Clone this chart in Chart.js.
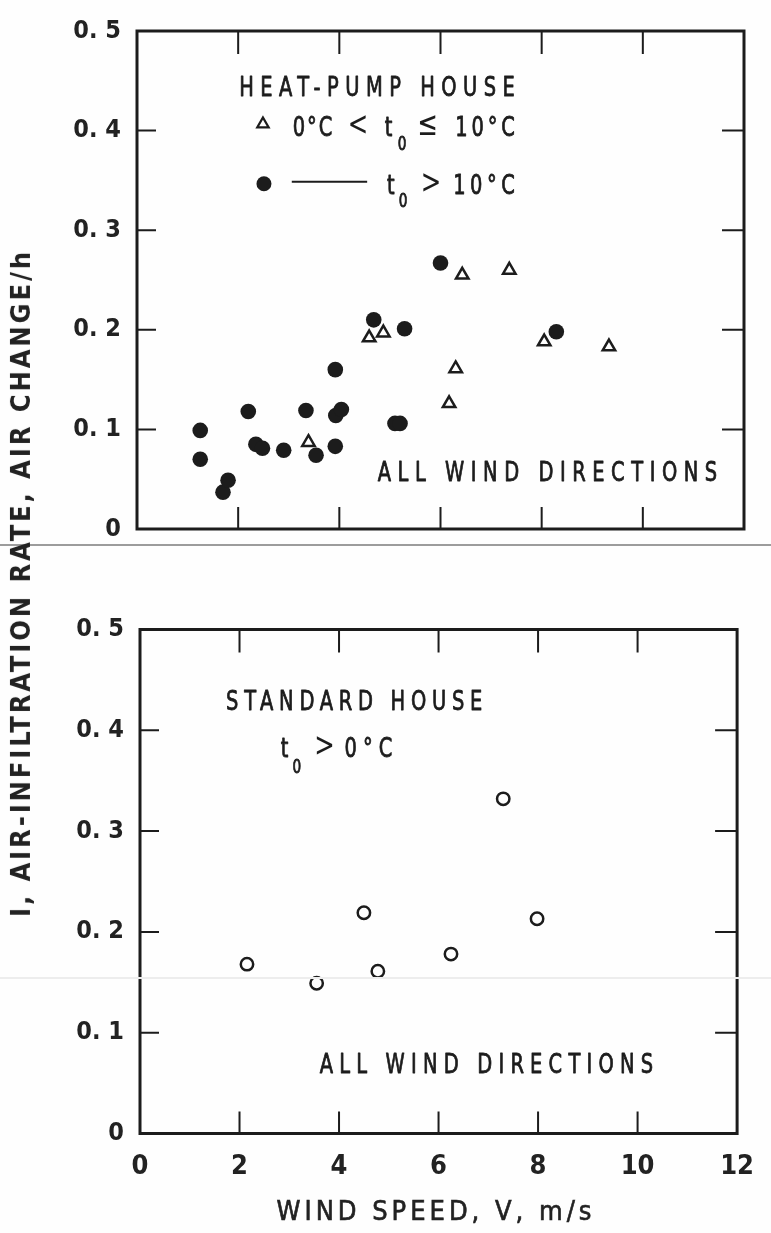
<!DOCTYPE html>
<html>
<head>
<meta charset="utf-8">
<script src="https://cdn.jsdelivr.net/npm/chart.js@4.4.1/dist/chart.umd.min.js"></script>
<style>
  html, body { margin: 0; padding: 0; background: #fff; }
  #page { position: relative; width: 771px; height: 1233px; overflow: hidden; background: #fefefe; }
  canvas { position: absolute; left: 0; }
  #top { top: 0; }
  #bottom { top: 580px; }
  .label { position: absolute; white-space: nowrap; color: #222; }
  #xtitle { -webkit-text-stroke: 0.6px #222; }
  .scan { position: absolute; left: 0; width: 771px; }
</style>
</head>
<body>
<div id="page">
  <canvas id="top" width="771" height="560"></canvas>
  <canvas id="bottom" width="771" height="653"></canvas>
  <div class="scan" style="top:544px;height:2px;background:#9c9c9c"></div>
  <div class="scan" style="top:977px;height:2px;background:#ededed"></div>
  <div id="ytitle" class="label">I, AIR-INFILTRATION RATE, AIR CHANGE/h</div>
  <div id="xtitle" class="label">WIND SPEED, V, m/s</div>
</div>
<script>
// axes
const speedTicks = [0, 2, 4, 6, 8, 10, 12];
const rateTicks = [0, 0.1, 0.2, 0.3, 0.4, 0.5];

// heat-pump house, t0 > 10 °C (filled dots)
const hpWarmV = [1.25, 1.25, 1.70, 1.80, 2.20, 2.35, 2.48, 2.90, 3.34, 3.54,
  3.92, 3.92, 3.93, 4.04, 4.68, 5.29, 5.10, 5.20, 6.00, 8.29];
const hpWarmI = [0.099, 0.070, 0.037, 0.049, 0.118, 0.085, 0.081, 0.079, 0.119, 0.074,
  0.160, 0.083, 0.114, 0.120, 0.210, 0.201, 0.106, 0.106, 0.267, 0.198];

// heat-pump house, 0 °C < t0 <= 10 °C (open triangles)
const hpMildV = [3.39, 4.59, 4.87, 6.43, 7.36, 6.30, 6.17, 8.05, 9.33];
const hpMildI = [0.087, 0.192, 0.197, 0.255, 0.260, 0.161, 0.126, 0.188, 0.183];

// standard house, t0 > 0 °C (open circles)
const stdV = [2.15, 3.55, 4.50, 4.78, 6.25, 7.30, 7.98];
const stdI = [0.168, 0.149, 0.219, 0.161, 0.178, 0.332, 0.213];

const INK = "#1c1c1c";
const FONT = "'DejaVu Sans Condensed', 'Liberation Sans Narrow', 'DejaVu Sans', sans-serif";
const CAP = 0.729;
const NARROW = 0.8; // the typeface on the original is narrower than DejaVu

const toPoints = (xs, ys) => xs.map((x, i) => ({ x, y: ys[i] }));

function rateLabel(v) {
  const d = Math.round(v * 10);
  return d === 0 ? "0" : "0. " + d;
}

// frame with inward tick marks
const framePlugin = {
  id: "frame",
  afterDraw(chart) {
    const { ctx, chartArea: a, scales: { x, y } } = chart;
    ctx.save();
    ctx.strokeStyle = INK;
    ctx.lineWidth = 3;
    ctx.strokeRect(a.left, a.top, a.right - a.left, a.bottom - a.top);
    ctx.lineWidth = 2;
    ctx.beginPath();
    x.ticks.forEach((t) => {
      if (t.value <= x.min || t.value >= x.max) return;
      const px = x.getPixelForValue(t.value);
      ctx.moveTo(px, a.bottom);
      ctx.lineTo(px, a.bottom - 22);
      ctx.moveTo(px, a.top);
      ctx.lineTo(px, a.top + 23);
    });
    y.ticks.forEach((t) => {
      if (t.value <= y.min || t.value >= y.max - 1e-9) return;
      const py = y.getPixelForValue(t.value);
      ctx.moveTo(a.left, py);
      ctx.lineTo(a.left + 19, py);
      ctx.moveTo(a.right, py);
      ctx.lineTo(a.right - 22, py);
    });
    ctx.stroke();
    ctx.restore();
  },
};

// text notes and the little key, placed in data units
const notesPlugin = {
  id: "notes",
  afterDatasetsDraw(chart, args, opts) {
    const { ctx, scales: { x, y } } = chart;
    ctx.save();
    ctx.fillStyle = INK;
    ctx.strokeStyle = INK;
    (opts.items || []).forEach((it) => {
      const size = it.size || 27;
      ctx.save();
      ctx.scale(NARROW, 1);
      ctx.font = `normal ${size}px ${FONT}`;
      ctx.textBaseline = "alphabetic";
      ctx.lineWidth = 0.8;
      ctx.lineJoin = "round";
      let base = y.getPixelForValue(it.y) + (CAP * size) / 2;
      if (it.sym) {
        ctx.textBaseline = "middle";
        base = y.getPixelForValue(it.y);
      }
      let px;
      ctx.letterSpacing = "0px";
      if (it.xc !== undefined) {
        ctx.textAlign = "center";
        px = x.getPixelForValue(it.xc);
      } else {
        ctx.textAlign = "left";
        px = x.getPixelForValue(it.x);
        if (it.x1 !== undefined) {
          const span = x.getPixelForValue(it.x1) - px;
          const w = ctx.measureText(it.t).width * NARROW;
          const n = [...it.t].length;
          ctx.letterSpacing = ((span - w) / (n - 1) / NARROW) + "px";
        }
      }
      ctx.fillText(it.t, px / NARROW, base);
      if (!it.sym) ctx.strokeText(it.t, px / NARROW, base);
      ctx.restore();
    });
    (opts.marks || []).forEach((m) => {
      const px = x.getPixelForValue(m.x);
      const py = y.getPixelForValue(m.y);
      ctx.beginPath();
      if (m.type === "dot") {
        ctx.arc(px, py, m.r, 0, Math.PI * 2);
        ctx.fill();
      } else if (m.type === "triangle") {
        for (let k = 0; k < 3; k++) {
          const ang = (k * 2 * Math.PI) / 3;
          const tx = px + Math.sin(ang) * m.r;
          const ty = py - Math.cos(ang) * m.r;
          k ? ctx.lineTo(tx, ty) : ctx.moveTo(tx, ty);
        }
        ctx.closePath();
        ctx.lineWidth = 2.3;
        ctx.stroke();
      } else if (m.type === "line") {
        ctx.moveTo(px, py);
        ctx.lineTo(x.getPixelForValue(m.x1), py);
        ctx.lineWidth = 2;
        ctx.stroke();
      }
    });
    ctx.restore();
  },
};

function baseScales(leftWidth, bottomHeight, showX) {
  return {
    x: {
      type: "linear",
      min: speedTicks[0],
      max: speedTicks[speedTicks.length - 1],
      afterBuildTicks: (s) => { s.ticks = speedTicks.map((v) => ({ value: v })); },
      grid: { display: false, drawTicks: false },
      border: { display: false },
      ticks: {
        display: showX,
        padding: 17,
        color: "#222",
        font: { family: FONT, size: 27, weight: "bold" },
        maxRotation: 0,
      },
      afterFit: (s) => { s.height = bottomHeight; },
    },
    y: {
      type: "linear",
      min: rateTicks[0],
      max: rateTicks[rateTicks.length - 1],
      afterBuildTicks: (s) => { s.ticks = rateTicks.map((v) => ({ value: v })); },
      grid: { display: false, drawTicks: false },
      border: { display: false },
      ticks: {
        padding: 16,
        color: "#222",
        font: { family: FONT, size: 25, weight: "bold" },
        callback: rateLabel,
      },
      afterFit: (s) => { s.width = leftWidth; },
    },
  };
}

new Chart(document.getElementById("top"), {
  type: "scatter",
  data: {
    datasets: [
      {
        label: "t0 > 10 °C",
        data: toPoints(hpWarmV, hpWarmI),
        pointStyle: "circle",
        pointRadius: 7.8,
        backgroundColor: INK,
        borderColor: INK,
        borderWidth: 0,
      },
      {
        label: "0 °C < t0 ≤ 10 °C",
        data: toPoints(hpMildV, hpMildI),
        pointStyle: "triangle",
        pointRadius: 7.2,
        backgroundColor: "rgba(255,255,255,0)",
        borderColor: INK,
        borderWidth: 2.5,
      },
    ],
  },
  options: {
    responsive: false,
    animation: false,
    events: [],
    layout: { autoPadding: false, padding: { top: 20, right: 27, left: 0, bottom: 0 } },
    scales: baseScales(137, 30, false),
    plugins: {
      legend: { display: false },
      tooltip: { enabled: false },
      notes: {
        items: [
          { t: "HEAT-PUMP HOUSE", x: 2.02, x1: 7.47, y: 0.4444 },
          { t: "0°C", x: 3.08, x1: 3.86, y: 0.4046 },
          { t: "<", xc: 4.37, y: 0.4046, size: 34, sym: true },
          { t: "t", x: 4.90, y: 0.4046 },
          { t: "0", xc: 5.24, y: 0.3879, size: 19 },
          { t: "≤", xc: 5.75, y: 0.4046, size: 34, sym: true },
          { t: "10°C", x: 6.29, x1: 7.47, y: 0.4046 },
          { t: "t", x: 4.94, y: 0.3466 },
          { t: "0", xc: 5.26, y: 0.3298, size: 19 },
          { t: ">", xc: 5.81, y: 0.3466, size: 34, sym: true },
          { t: "10°C", x: 6.25, x1: 7.47, y: 0.3466 },
          { t: "ALL WIND DIRECTIONS", x: 4.76, x1: 11.47, y: 0.0578 },
        ],
        marks: [
          { type: "triangle", x: 2.49, y: 0.4066, r: 6.5 },
          { type: "dot", x: 2.51, y: 0.3466, r: 7.5 },
          { type: "line", x: 3.06, x1: 4.55, y: 0.3486 },
        ],
      },
    },
  },
  plugins: [framePlugin, notesPlugin],
});

new Chart(document.getElementById("bottom"), {
  type: "scatter",
  data: {
    datasets: [
      {
        label: "t0 > 0 °C",
        data: toPoints(stdV, stdI),
        pointStyle: "circle",
        pointRadius: 6.2,
        backgroundColor: "rgba(255,255,255,0)",
        borderColor: INK,
        borderWidth: 2.5,
      },
    ],
  },
  options: {
    responsive: false,
    animation: false,
    events: [],
    layout: { autoPadding: false, padding: { top: 49.5, right: 22, left: 0, bottom: 0 } },
    scales: baseScales(140, 99.5, true),
    plugins: {
      legend: { display: false },
      tooltip: { enabled: false },
      notes: {
        items: [
          { t: "STANDARD HOUSE", x: 1.73, x1: 6.88, y: 0.430 },
          { t: "t", x: 2.83, y: 0.3834 },
          { t: "0", xc: 3.15, y: 0.365, size: 19 },
          { t: ">", xc: 3.71, y: 0.3834, size: 34, sym: true },
          { t: "0°C", x: 4.11, x1: 5.07, y: 0.3834 },
          { t: "ALL WIND DIRECTIONS", x: 3.61, x1: 10.31, y: 0.0702 },
        ],
      },
    },
  },
  plugins: [framePlugin, notesPlugin],
});

// axis titles as html text, stretched to the measured length
function placeTitle(id, width, cx, cy, size, weight, rotate) {
  const el = document.getElementById(id);
  const m = document.createElement("canvas").getContext("2d");
  m.font = `${weight} ${size}px ${FONT}`;
  const text = el.textContent;
  const w = m.measureText(text).width;
  const sp = (width - w) / (text.length - 1);
  const h = Math.round(size * 1.2);
  el.style.fontFamily = FONT;
  el.style.fontSize = size + "px";
  el.style.fontWeight = weight;
  el.style.lineHeight = h + "px";
  el.style.letterSpacing = sp + "px";
  el.style.width = (width + sp) + "px";
  el.style.height = h + "px";
  const shift = 0.08 * size;
  if (rotate) {
    el.style.left = (cx - shift - (width + sp) / 2) + "px";
    el.style.top = (cy - h / 2) + "px";
    el.style.transform = "rotate(-90deg)";
  } else {
    el.style.left = (cx - width / 2) + "px";
    el.style.top = (cy - shift - h / 2) + "px";
  }
}
placeTitle("ytitle", 665, 23, 583, 27, "bold", true);
placeTitle("xtitle", 315, 434, 1213, 27, "normal", false);
</script>
</body>
</html>
